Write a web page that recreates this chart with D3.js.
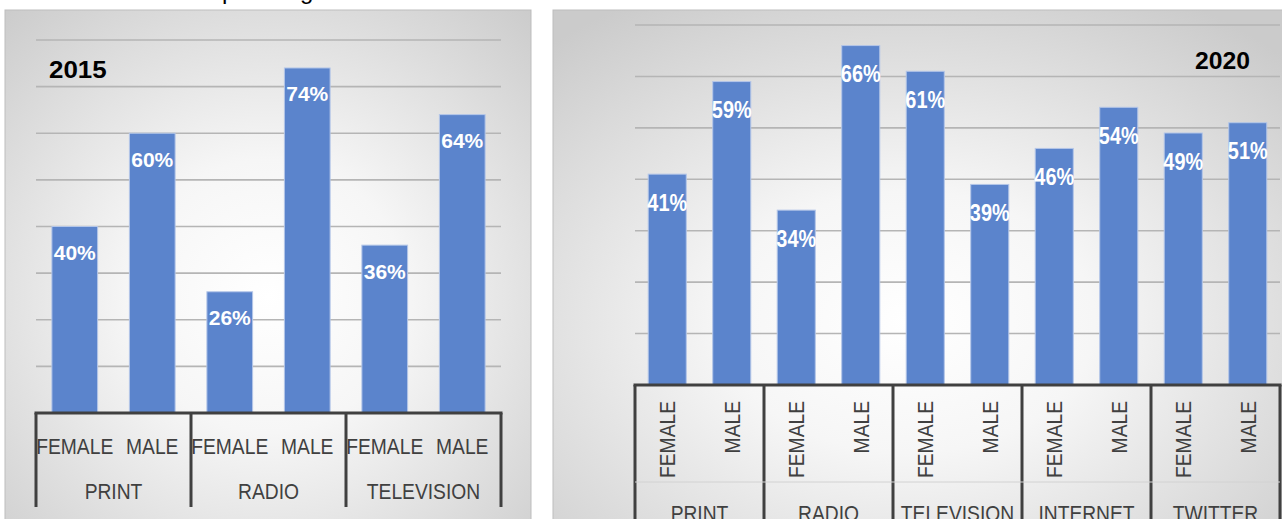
<!DOCTYPE html>
<html>
<head>
<meta charset="utf-8">
<script src="https://cdn.jsdelivr.net/npm/d3@7"></script>
<style>
  html, body { margin: 0; padding: 0; background: #ffffff; }
  svg { display: block; font-family: "Liberation Sans", Arial, sans-serif; }
</style>
</head>
<body>
<svg id="chart" width="1282" height="519"></svg>
<script>
// ---- data ----
const genders = ["FEMALE", "MALE"];
const media2015 = ["PRINT", "RADIO", "TELEVISION"];
const female2015 = [0.40, 0.26, 0.36];
const male2015 = [0.60, 0.74, 0.64];
const media2020 = ["PRINT", "RADIO", "TELEVISION", "INTERNET", "TWITTER"];
const female2020 = [0.41, 0.34, 0.61, 0.46, 0.49];
const male2020 = [0.59, 0.66, 0.39, 0.54, 0.51];
const ticks2015 = [0.1, 0.2, 0.3, 0.4, 0.5, 0.6, 0.7, 0.8];
const ticks2020 = [0.1, 0.2, 0.3, 0.4, 0.5, 0.6, 0.7];
const title2015 = "2015";
const title2020 = "2020";

const svg = d3.select("#chart");
const defs = svg.append("defs");

function grad(id, cx, cy, r) {
  const g = defs.append("radialGradient").attr("id", id)
    .attr("cx", cx).attr("cy", cy).attr("r", r);
  g.append("stop").attr("offset", "0%").attr("stop-color", "#ffffff");
  g.append("stop").attr("offset", "35%").attr("stop-color", "#f6f6f6");
  g.append("stop").attr("offset", "100%").attr("stop-color", "#cbcbcb");
}
grad("bg1", "0.5", "0.55", "0.75");
grad("bg2", "0.48", "0.6", "0.72");

// cut-off text above panels
svg.append("text").attr("x", 222).attr("y", -1).attr("font-size", 24).attr("fill", "#000").text("p");
svg.append("text").attr("x", 300).attr("y", -1).attr("font-size", 24).attr("fill", "#000").text("g");

function flatten(media, fem, mal) {
  const rows = [];
  media.forEach((m, i) => {
    rows.push({ key: m + "|F", media: m, gender: genders[0], value: fem[i] });
    rows.push({ key: m + "|M", media: m, gender: genders[1], value: mal[i] });
  });
  return rows;
}

function drawPanel(opt) {
  const g = svg.append("g");
  g.append("rect").attr("x", opt.panel[0]).attr("y", opt.panel[1])
    .attr("width", opt.panel[2]).attr("height", opt.panel[3])
    .attr("fill", "url(#" + opt.bg + ")").attr("stroke", "#bdbdbd").attr("stroke-width", 1);

  const rows = flatten(opt.media, opt.fem, opt.mal);
  const x = d3.scaleBand().domain(rows.map(d => d.key)).range(opt.xr)
    .paddingInner(0.41).paddingOuter(0.205);
  const y = d3.scaleLinear().domain([0, opt.max]).range(opt.yr);

  // gridlines
  g.append("g").selectAll("line").data(opt.ticks).join("line")
    .attr("x1", opt.xr[0]).attr("x2", opt.xr[1])
    .attr("y1", d => y(d)).attr("y2", d => y(d))
    .attr("stroke", "#b5b5b5").attr("stroke-width", 1.6);

  // title
  g.append("text").attr("transform", `translate(${opt.titlePos[0]},${opt.titlePos[1]}) scale(${opt.titleScale},1)`)
    .attr("font-size", 24).attr("font-weight", "bold").attr("fill", "#000")
    .attr("text-anchor", opt.titleAnchor).text(opt.title);

  // bars
  g.append("g").selectAll("rect").data(rows).join("rect")
    .attr("x", d => x(d.key)).attr("width", x.bandwidth())
    .attr("y", d => y(d.value)).attr("height", d => y(0) - y(d.value))
    .attr("fill", "#5b84cc").attr("stroke", "#b4c6e8").attr("stroke-width", 1);

  // value labels
  g.append("g").selectAll("text").data(rows).join("text")
    .attr("transform", d => `translate(${x(d.key) + x.bandwidth() / 2},${y(d.value) + opt.labOff}) scale(${opt.labScale},1)`)
    .attr("text-anchor", "middle").attr("font-size", opt.labSize).attr("font-weight", "bold")
    .attr("fill", "#ffffff").text(d => Math.round(d.value * 100) + "%");

  // axis box
  const base = y(0);
  const ax = g.append("g").attr("stroke", "#404040").attr("stroke-width", 3).attr("fill", "none");
  if (opt.midLine) {
    g.append("line").attr("x1", opt.xr[0]).attr("x2", opt.xr[1])
      .attr("y1", opt.midLine).attr("y2", opt.midLine)
      .attr("stroke", "#d2d2d2").attr("stroke-width", 1);
  }
  ax.append("line").attr("x1", opt.xr[0] - 1.5).attr("x2", opt.xr[1] + 1.5)
    .attr("y1", base).attr("y2", base);
  const seps = opt.media.map(m => x(m + "|F") - x.step() * 0.205).concat([opt.xr[1]]);
  ax.selectAll("line.sep").data(seps).join("line").attr("class", "sep")
    .attr("x1", d => d).attr("x2", d => d).attr("y1", base).attr("y2", opt.sepBottom);

  // gender labels
  g.append("g").selectAll("text").data(rows).join("text")
    .attr("transform", d => opt.rotate
      ? `translate(${x(d.key) + x.bandwidth() / 2 + 8},${opt.genderY}) rotate(-90) scale(0.875,1)`
      : `translate(${x(d.key) + x.bandwidth() / 2},${opt.genderY}) scale(0.875,1)`)
    .attr("text-anchor", opt.rotate ? "end" : "middle")
    .attr("font-size", 22).attr("fill", "#404040").text(d => d.gender);

  // media labels
  g.append("g").selectAll("text").data(opt.media).join("text")
    .attr("transform", m => `translate(${(x(m + "|F") + x(m + "|M") + x.bandwidth()) / 2},${opt.mediaY}) scale(0.875,1)`)
    .attr("text-anchor", "middle").attr("font-size", 22).attr("fill", "#404040").text(m => m);
}

drawPanel({
  panel: [5, 10, 526, 520], bg: "bg1",
  media: media2015, fem: female2015, mal: male2015,
  xr: [36, 501], yr: [413, 40], max: 0.8, ticks: ticks2015,
  title: title2015, titlePos: [49, 78], titleScale: 1.08, titleAnchor: "start",
  labOff: 33.5, labSize: 21, labScale: 1,
  sepBottom: 507, genderY: 454, mediaY: 499, rotate: false
});

drawPanel({
  panel: [553, 10, 740, 520], bg: "bg2",
  media: media2020, fem: female2020, mal: male2020,
  xr: [635, 1280], yr: [385, 25], max: 0.7, ticks: ticks2020,
  title: title2020, titlePos: [1250, 69], titleScale: 1.03, titleAnchor: "end",
  labOff: 36.5, labSize: 24, labScale: 0.83,
  sepBottom: 530, genderY: 401, mediaY: 521, rotate: true, midLine: 482
});
</script>
</body>
</html>
